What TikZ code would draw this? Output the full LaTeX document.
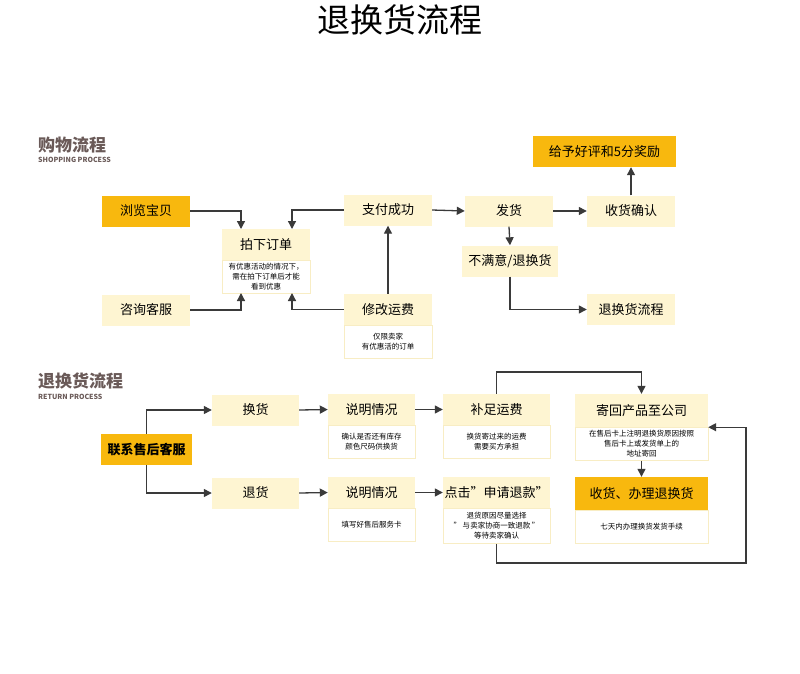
\documentclass[tikz,border=0pt]{standalone}
\usepackage{fontspec}
\setmainfont{Noto Sans CJK SC}
\usetikzlibrary{arrows.meta}
\definecolor{lightY}{HTML}{FEF5D2}
\definecolor{orangeY}{HTML}{F8B80E}
\definecolor{edgeY}{HTML}{F8EDC4}
\definecolor{headC}{HTML}{6A5A58}
\definecolor{lineC}{HTML}{3A3A3A}
\begin{document}
\begin{tikzpicture}[x=1pt,y=-1pt,
 lbox/.style={fill=lightY,inner sep=0pt,minimum width=#1pt,minimum height=31pt,font=\fontsize{13}{15}\selectfont},
 obox/.style={fill=orangeY,inner sep=0pt,minimum width=#1pt,minimum height=31pt,font=\fontsize{13}{15}\selectfont},
 wbox/.style={fill=white,draw=edgeY,line width=0.6pt,inner sep=1pt,minimum width=#1pt,minimum height=33pt,align=center,font=\fontsize{7.5}{10}\selectfont},
 conn/.style={draw=lineC,line width=1.3pt,-{Triangle[width=8pt,length=8pt]}},
 seg/.style={draw=lineC,line width=1.3pt}]
\useasboundingbox (0,0) rectangle (800,673);
\node (title) at (400,20) {\fontsize{33}{36}\selectfont 退换货流程};
\node[anchor=west,text=headC,inner sep=0pt] (h1) at (38,145) {\fontsize{17}{18}\selectfont\bfseries 购物流程};
\node[anchor=west,text=headC,inner sep=0pt] (h1e) at (38,160) {\fontsize{7}{8}\selectfont\bfseries SHOPPING PROCESS};
\node[anchor=west,text=headC,inner sep=0pt] (h2) at (38,381) {\fontsize{17}{18}\selectfont\bfseries 退换货流程};
\node[anchor=west,text=headC,inner sep=0pt] (h2e) at (38,397) {\fontsize{7}{8}\selectfont\bfseries RETURN PROCESS};
% top section
\node[obox=88] (llbb) at (146,211) {浏览宝贝};
\node[lbox=88] (pxdd) at (266,244.5) {拍下订单};
\node[wbox=88,anchor=north] (pxddw) at (pxdd.south) {有优惠活动的情况下，\\需在拍下订单后才能\\看到优惠};
\node[lbox=88] (zxkf) at (146,310) {咨询客服};
\node[lbox=88] (zfcg) at (388,210) {支付成功};
\node[lbox=88] (xgyf) at (388,309.5) {修改运费};
\node[wbox=88,anchor=north] (xgyfw) at (xgyf.south) {仅限卖家\\有优惠活的订单};
\node[lbox=88] (fh) at (509,211) {发货};
\node[lbox=96] (bmy) at (510,261) {不满意/退换货};
\node[lbox=88] (shqr) at (631,211) {收货确认};
\node[obox=143] (gyhp) at (604.5,151.5) {给予好评和5分奖励};
\node[lbox=88] (thlc) at (631,309.5) {退换货流程};
\draw[conn] (llbb.east) -| (241,229);
\draw[conn] (zfcg.west) -| (292,229);
\draw[conn] (zxkf.east) -| (241,293);
\draw[conn] (xgyf.west) -| (292,293);
\draw[conn] (xgyf.north) -- (zfcg.south);
\draw[conn] (zfcg.east) -- (fh.west);
\draw[conn] (fh.east) -- (shqr.west);
\draw[conn] (shqr.north) -- (gyhp.south -| shqr.north);
\draw[conn] (fh.south) -- (bmy.north);
\draw[conn] (bmy.south) |- (thlc.west);
% return section
\node[obox=91] (lxsh) at (146.5,449.5) {\bfseries 联系售后客服};
\node[lbox=87] (hh) at (255.5,410) {换货};
\node[lbox=87] (th) at (255.5,493) {退货};
\node[lbox=87] (smqk1) at (371.5,409.5) {说明情况};
\node[wbox=87,anchor=north] (smqk1w) at (smqk1.south) {确认是否还有库存\\颜色尺码供换货};
\node[lbox=107] (bzyf) at (496.5,409.5) {补足运费};
\node[wbox=107,anchor=north] (bzyfw) at (bzyf.south) {换货寄过来的运费\\需要买方承担};
\node[lbox=133,minimum height=33pt] (jhcp) at (641.5,410.5) {寄回产品至公司};
\node[wbox=133,anchor=north] (jhcpw) at (jhcp.south) {在售后卡上注明退换货原因按照\\售后卡上或发货单上的\\地址寄回};
\node[obox=133,minimum height=33pt] (shbl) at (641.5,493.5) {收货、办理退换货};
\node[wbox=133,anchor=north] (shblw) at (shbl.south) {七天内办理换货发货手续};
\node[lbox=87] (smqk2) at (371.5,492.5) {说明情况};
\node[wbox=87,anchor=north] (smqk2w) at (smqk2.south) {填写好售后服务卡};
\node[lbox=107] (djsq) at (496.5,492.5) {点击"申请退款"};
\node[wbox=107,anchor=north,minimum height=35pt] (djsqw) at (djsq.south) {退货原因尽量选择\\" 与卖家协商一致退款 "\\等待卖家确认};
\coordinate (c1) at (746,563);
\draw[conn] (lxsh.north) |- (hh.west);
\draw[conn] (lxsh.south) |- (th.west);
\draw[conn] (hh.east) -- (smqk1.west);
\draw[conn] (smqk1.east) -- (bzyf.west);
\draw[conn] (th.east) -- (smqk2.west);
\draw[conn] (smqk2.east) -- (djsq.west);
\draw[conn] (bzyf.north) -- (496.5,372) -| (jhcp.north);
\draw[conn] (jhcpw.south) -- (shbl.north);
\draw[conn] (djsqw.south) |- (c1) |- (jhcp.south east);
\end{tikzpicture}
\end{document}
